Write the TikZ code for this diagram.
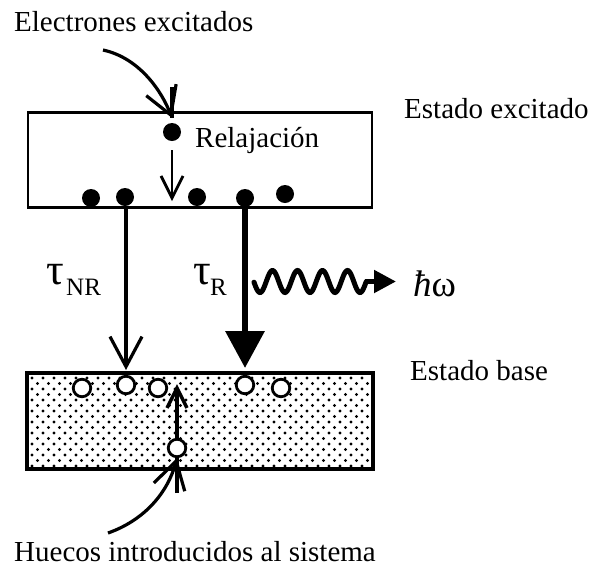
\documentclass[tikz,border=0pt]{standalone}
\usepackage{fontspec}
\setmainfont{Liberation Serif}
\usetikzlibrary{arrows.meta}
\tikzset{
  lbl/.style={anchor=base west, inner sep=0pt, font=\fontsize{29}{34}\selectfont},
  band/.style={draw, line width=2.8pt},
  elec/.style={circle, fill=black, inner sep=0pt, minimum size=18pt},
  hole/.style={circle, draw, fill=white, line width=2.8pt, inner sep=0pt, minimum size=17.5pt},
  barb/.style={-{Straight Barb[length=22pt,width=22pt,line width=2.8pt]}, line width=2.8pt},
  bigbarb/.style={-{Straight Barb[length=27pt,width=32pt,line width=3.2pt]}, line width=3.2pt},
  taulbl/.style={anchor=base west, inner sep=0pt, font=\fontsize{44}{48}\selectfont},
  sublbl/.style={anchor=base west, inner sep=0pt, font=\fontsize{25}{28}\selectfont},
}
\begin{document}
\begin{tikzpicture}[x=1pt,y=-1pt]
\useasboundingbox (0,0) rectangle (591,566);
% texts
\node[lbl] (te) at (14,31) {Electrones excitados};
\node[lbl] (tx) at (404,118) {Estado excitado};
\node[lbl] (tb) at (410,380) {Estado base};
\node[lbl] (th) at (14,561) {Huecos introducidos al sistema};
\node[lbl] (trel) at (195,147) {Relajación};
% ground band with dots
\node[band, fill=white, minimum width=344pt, minimum height=95pt, inner sep=0pt] (gb) at (200,421) {};
\foreach \i in {0,...,16}{
  \pgfmathsetmacro{\yy}{378+5.5*\i}
  \pgfmathsetmacro{\off}{mod(\i,2)*5.5}
  \foreach \j in {0,...,30}{
    \pgfmathsetmacro{\xx}{32+\off+11*\j}
    \ifdim\xx pt<369pt \fill[black] (\xx,\yy) circle (1.55pt);\fi
  }
}
\draw[line width=2.8pt] (gb.north west) rectangle (gb.south east);
% excited band
\node[band, minimum width=344pt, minimum height=95pt, inner sep=0pt] (eb) at (200,160) {};
% incoming electron arrow
\coordinate (e0) at (103,50);
\coordinate (e1) at (172,118);
\coordinate (e2) at (172,87);
\draw[bigbarb] (e0) .. controls (140,58) and (162,92) .. (e1);
\draw[line width=3.2pt] (e2) -- (e1);
% electrons
\node[elec] (d0) at (172,132) {};
\node[elec] (d1) at (91,198) {};
\node[elec] (d2) at (125,197) {};
\node[elec] (d3) at (197,197) {};
\node[elec] (d4) at (245,198) {};
\node[elec] (d5) at (285,194) {};
\coordinate (r1) at (172,150);
\coordinate (r2) at (172,201);
\draw[barb] (r1) -- (r2);
% non-radiative
\coordinate (nr1) at (126,207);
\coordinate (nr2) at (126,370);
\draw[-{Straight Barb[length=30pt,width=32pt,line width=3.2pt]}, line width=3.2pt] (nr1) -- (nr2);
% radiative
\coordinate (ra1) at (245,207);
\coordinate (ra2) at (245,368);
\draw[-{Triangle[length=37pt,width=38pt]}, line width=6.5pt] (ra1) -- (ra2);
% labels tau
\node[taulbl] (tnr) at (46,284) {τ};
\node[sublbl] (tnrs) at (66,295) {NR};
\node[taulbl] (tr) at (193,284) {τ};
\node[sublbl] (trs) at (210,295) {R};
% photon
\draw[line width=5pt, line cap=round] plot[domain=254:366.25, samples=120, smooth] (\x,{281.5+11*cos((\x-260)*14.4)});
\coordinate (w1) at (366,281.5);
\coordinate (w2) at (396,281.5);
\draw[line width=5pt, -{Triangle[length=22pt,width=22pt]}] (w1) -- (w2);
\node[anchor=base west, inner sep=0pt, font=\fontsize{37}{40}\selectfont] (hw) at (413,296) {\textit{ħ}ω};
% holes
\node[hole] (h1) at (82,388) {};
\node[hole] (h2) at (126,385) {};
\node[hole] (h3) at (158,388) {};
\node[hole] (h4) at (245,385) {};
\node[hole] (h5) at (281,388) {};
\node[hole] (h6) at (177,448) {};
\draw[-{Straight Barb[length=20pt,width=20pt,line width=3.5pt]}, line width=3.5pt] (h6.north) -- (177,384);
% incoming hole arrow
\coordinate (b0) at (108,533);
\coordinate (b1) at (177,458);
\coordinate (b2) at (177,493);
\draw[bigbarb] (b0) .. controls (145,520) and (168,492) .. (b1);
\draw[line width=3.2pt] (b2) -- (b1);
\end{tikzpicture}
\end{document}
